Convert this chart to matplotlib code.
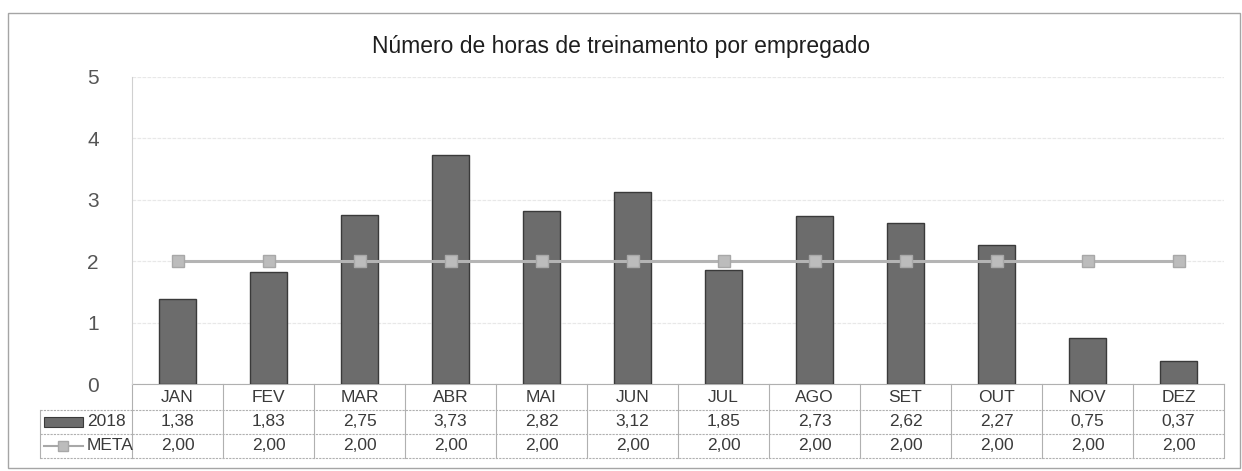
import numpy as np
import matplotlib
matplotlib.use('Agg')
import matplotlib.pyplot as plt
import matplotlib.transforms as mtransforms
from matplotlib.patches import Rectangle
from matplotlib.lines import Line2D

#   Data
meses = ['JAN', 'FEV', 'MAR', 'ABR', 'MAI', 'JUN', 'JUL', 'AGO', 'SET', 'OUT', 'NOV', 'DEZ']
horas_2018 = [1.38, 1.83, 2.75, 3.73, 2.82, 3.12, 1.85, 2.73, 2.62, 2.27, 0.75, 0.37]
meta = [2.00, 2.00, 2.00, 2.00, 2.00, 2.00, 2.00, 2.00, 2.00, 2.00, 2.00, 2.00]
titulo = 'Número de horas de treinamento por empregado'

plt.rcParams['font.family'] = ['Liberation Sans', 'DejaVu Sans']

W, H = 1242, 471
fig = plt.figure(figsize=(W / 100, H / 100), dpi=100)

def fy(py):
    return 1 - py / H

def fx(px):
    return px / W

#   Outer frame
fig.patches.append(Rectangle((fx(8), fy(468)), fx(1240) - fx(8), fy(13) - fy(468),
                             transform=fig.transFigure, fill=False,
                             edgecolor='#a5a5a5', linewidth=1.0))

ax = fig.add_axes([fx(132), fy(384), fx(1224) - fx(132), fy(77) - fy(384)])

x = np.arange(len(meses))
ax.bar(x, horas_2018, width=0.4, color='#6c6c6c', edgecolor='#3a3a3a', linewidth=1.0, zorder=3)
ax.plot(x, meta, color='#b4b4b4', linewidth=2.2, marker='s', markersize=8,
        markerfacecolor='#bcbcbc', markeredgecolor='#a8a8a8', zorder=4)

ax.set_xlim(-0.5, len(meses) - 0.5)
ax.set_ylim(0, 5)
ax.set_yticks(range(0, 6))
ax.tick_params(axis='y', length=0, labelsize=15, labelcolor='#555555', pad=24)
ax.set_xticks([])
ax.grid(axis='y', color='#e8e8e8', linewidth=0.9, linestyle=(0, (3, 1)), zorder=0)
for s in ['top', 'right', 'bottom']:
    ax.spines[s].set_visible(False)
ax.spines['left'].set_color('#d0d0d0')
ax.spines['left'].set_linewidth(0.8)

fig.text(0.5, fy(47), titulo, ha='center', va='center', fontsize=16.5, color='#1e1e1e')

#   Data table
tr = mtransforms.blended_transform_factory(ax.transData, fig.transFigure)
linha_cor = '#b0b0b0'
y_lines = [384, 410, 434, 458]
n = len(meses)

# horizontal lines
ax.add_line(Line2D([-0.5, n - 0.5], [fy(384), fy(384)], transform=tr, color=linha_cor,
                   linewidth=0.8, clip_on=False))
for yl in y_lines[1:]:
    fig.add_artist(Line2D([fx(40), fx(132)], [fy(yl), fy(yl)], transform=fig.transFigure,
                          color=linha_cor, linewidth=0.8, linestyle=(0, (2, 1))))
    ax.add_line(Line2D([-0.5, n - 0.5], [fy(yl), fy(yl)], transform=tr, color=linha_cor,
                       linewidth=0.8, linestyle=(0, (2, 1)), clip_on=False))
# vertical lines
for i in range(n + 1):
    ax.add_line(Line2D([i - 0.5, i - 0.5], [fy(384), fy(458)], transform=tr, color=linha_cor,
                       linewidth=0.8, clip_on=False))
fig.add_artist(Line2D([fx(40), fx(40)], [fy(410), fy(458)], transform=fig.transFigure,
                      color=linha_cor, linewidth=0.8))

def fmt(v):
    return f'{v:.2f}'.replace('.', ',')

for i, m in enumerate(meses):
    ax.text(i, fy(397), m, transform=tr, ha='center', va='center', fontsize=12.5, color='#3a3a3a')
    ax.text(i, fy(422), fmt(horas_2018[i]), transform=tr, ha='center', va='center',
            fontsize=12.5, color='#3a3a3a')
    ax.text(i, fy(446), fmt(meta[i]), transform=tr, ha='center', va='center',
            fontsize=12.5, color='#3a3a3a')

# legend keys
fig.patches.append(Rectangle((fx(44), fy(427)), fx(83) - fx(44), fy(417) - fy(427),
                             transform=fig.transFigure, facecolor='#6c6c6c',
                             edgecolor='#3a3a3a', linewidth=0.8))
fig.text(fx(87), fy(422), '2018', ha='left', va='center', fontsize=12.5, color='#3a3a3a')
fig.add_artist(Line2D([fx(44), fx(83)], [fy(446), fy(446)], transform=fig.transFigure,
                      color='#a8a8a8', linewidth=1.5))
fig.add_artist(Line2D([fx(63)], [fy(446)], transform=fig.transFigure, linestyle='none',
                      marker='s', markersize=7, markerfacecolor='#bcbcbc',
                      markeredgecolor='#a8a8a8'))
fig.text(fx(87), fy(446), 'META', ha='left', va='center', fontsize=12.5, color='#3a3a3a')

fig.savefig('out.png', dpi=100)
